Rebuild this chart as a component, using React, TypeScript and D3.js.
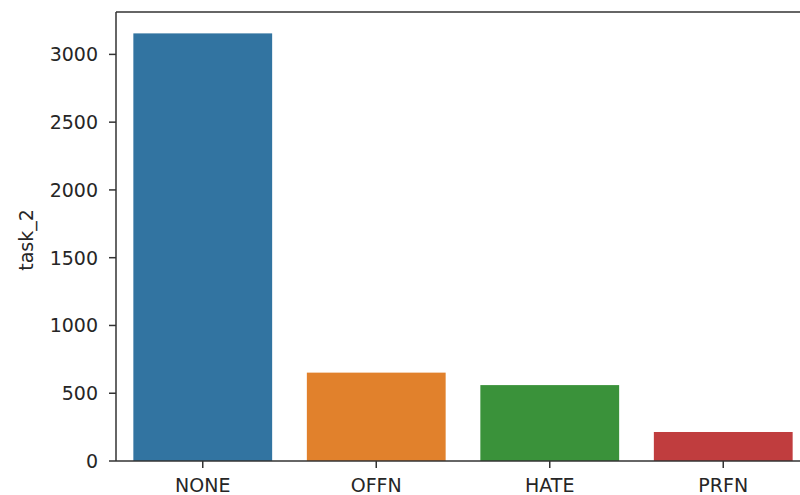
import React from "react";
import * as d3 from "d3";

const categories = ["NONE", "OFFN", "HATE", "PRFN"];
const counts = [3155, 652, 560, 214];
const colors = ["#3274a1", "#e1812c", "#3a923a", "#c03d3e"];
const yTicks = [0, 500, 1000, 1500, 2000, 2500, 3000];
const yLabel = "task_2";

const W = 800;
const H = 495;
const left = 116;
const top = 12;
const bottom = 461;
const rightEdge = 810;

export default function App() {
  const x = d3
    .scaleBand<string>()
    .domain(categories)
    .range([left, rightEdge])
    .paddingInner(0.2)
    .paddingOuter(0.1);
  const yMax = d3.max(counts)! * 1.05;
  const y = d3.scaleLinear().domain([0, yMax]).range([bottom, top]);
  const font = "'DejaVu Sans', sans-serif";
  const fs = 19;
  const textColor = "#262626";
  return (
    <svg
      width={W}
      height={H}
      style={{ position: "absolute", left: 0, top: 0, background: "#fff" }}
      fontFamily={font}
    >
      <rect x={0} y={0} width={W} height={H} fill="#fff" />
      {categories.map((c, i) => (
        <rect
          key={c}
          x={x(c)!}
          y={y(counts[i])}
          width={x.bandwidth()}
          height={y(0) - y(counts[i])}
          fill={colors[i]}
        />
      ))}
      {/* spines */}
      <line x1={left} x2={left} y1={top} y2={bottom} stroke="#333" strokeWidth={1.5} />
      <line x1={left} x2={W} y1={top} y2={top} stroke="#333" strokeWidth={1.5} />
      <line x1={left} x2={W} y1={bottom} y2={bottom} stroke="#333" strokeWidth={1.5} />
      {yTicks.map((t) => (
        <g key={t}>
          <line x1={left - 7} x2={left} y1={y(t)} y2={y(t)} stroke="#333" strokeWidth={1.5} />
          <text
            x={left - 18}
            y={y(t)}
            dy="0.36em"
            textAnchor="end"
            fontSize={fs}
            fill={textColor}
          >
            {t}
          </text>
        </g>
      ))}
      {categories.map((c) => {
        const cx = x(c)! + x.bandwidth() / 2;
        return (
          <g key={c}>
            <line x1={cx} x2={cx} y1={bottom} y2={bottom + 7} stroke="#333" strokeWidth={1.5} />
            <text x={cx} y={bottom + 31} textAnchor="middle" fontSize={fs} fill={textColor}>
              {c}
            </text>
          </g>
        );
      })}
      <text
        transform={`translate(${33}, ${240}) rotate(-90)`}
        textAnchor="middle"
        fontSize={fs}
        fill={textColor}
      >
        {yLabel}
      </text>
    </svg>
  );
}
